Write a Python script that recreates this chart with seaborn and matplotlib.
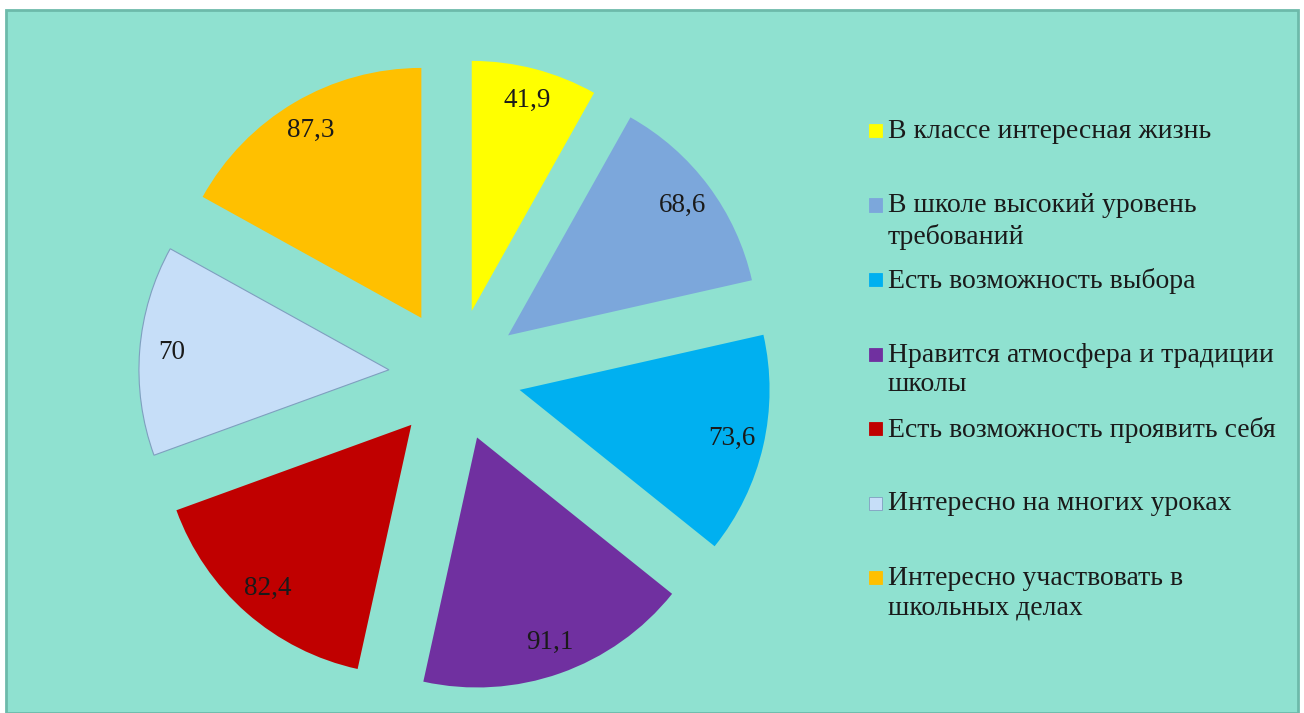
import matplotlib
matplotlib.use("Agg")
import matplotlib.pyplot as plt
from matplotlib.patches import Rectangle
import seaborn as sns

# data
categories = [
    "В классе интересная жизнь",
    "В школе высокий уровень\nтребований",
    "Есть возможность выбора",
    "Нравится атмосфера и традиции\nшколы",
    "Есть возможность проявить себя",
    "Интересно на многих уроках",
    "Интересно участвовать в\nшкольных делах",
]
values = [41.9, 68.6, 73.6, 91.1, 82.4, 70, 87.3]
value_labels = ["41,9", "68,6", "73,6", "91,1", "82,4", "70", "87,3"]
colors = ["#FFFF00", "#7CA7DB", "#00B0F0", "#7030A0", "#C00000", "#C6DEF8", "#FFC000"]

bg = "#8FE1D0"

sns.set_style("white")
plt.rcParams["font.family"] = ["Liberation Serif", "DejaVu Serif"]

fig = plt.figure(figsize=(13.04, 7.13), dpi=100)
fig.patch.set_facecolor("white")

# chart area background
W, H = 1304, 713
fig.patches.append(Rectangle((6 / W, 0), 1292 / W, 703 / H, transform=fig.transFigure,
                             facecolor=bg, edgecolor="#6DBAAA", linewidth=2, zorder=-5))

# pie axes: centre at (455, 375) px, radius 250 px
half = 330
ax = fig.add_axes([(455 - half) / W, (H - 375 - half) / H, 2 * half / W, 2 * half / H])
ax.set_zorder(2)
ax.set_facecolor("none")
ax.axis("off")

palette = sns.color_palette(colors)
wedges, texts = ax.pie(
    values,
    colors=palette,
    explode=[0.265] * len(values),
    startangle=90,
    counterclock=False,
    radius=1,
    labels=value_labels,
    labeldistance=0.87,
    textprops=dict(fontsize=19.5, color="#1a1a1a"),
    wedgeprops=dict(linewidth=0),
)
for t in texts:
    t.set_ha("center")
    t.set_va("center")
# light slice has a thin outline
wedges[5].set_edgecolor("#7F9FBF")
wedges[5].set_linewidth(0.8)
ax.set_xlim(-half / 250, half / 250)
ax.set_ylim(-half / 250, half / 250)
ax.set_aspect("equal")

# legend, drawn as in the original (equal slots, marker at first line)
y0, step = 130, 74.5
for i, (lab, c) in enumerate(zip(categories, palette)):
    y = y0 + i * step
    fig.patches.append(Rectangle((869 / W, 1 - (y + 7) / H), 13 / W, 13 / H,
                                 transform=fig.transFigure, facecolor=c,
                                 edgecolor="#7F9FBF" if i == 5 else c, linewidth=0.6,
                                 zorder=3))
    fig.text(888 / W, 1 - (y - 11) / H, lab, fontsize=20, va="top", ha="left",
             color="#1a1a1a", linespacing=1.25, zorder=3)

fig.savefig("out.png", dpi=100, facecolor="white")
